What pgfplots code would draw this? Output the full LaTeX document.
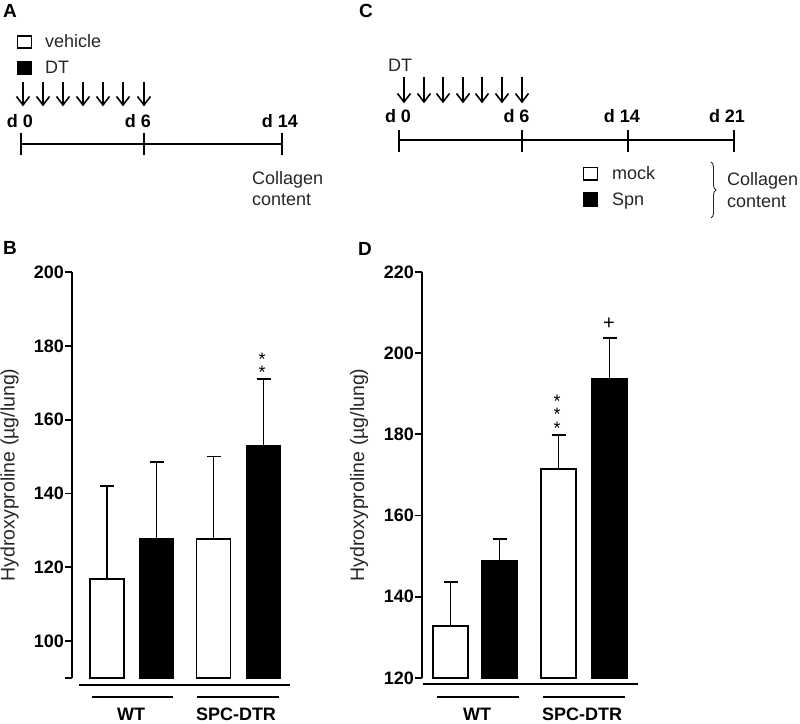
\documentclass[border=0pt]{standalone}
\usepackage{pgfplots}
\pgfplotsset{compat=1.18}
\usepackage{pgfplotstable}
\usepackage{fontspec}
\setmainfont{Liberation Sans}
\usetikzlibrary{decorations.pathreplacing}
\newcommand\fs{\fontsize{18}{21}\selectfont}
\newcommand\fl{\fontsize{19.5}{22}\selectfont}
\colorlet{txt}{black!85}

\pgfplotstableread{
x y e
0 116.8 25.2
2.13 127.7 22.3
}\Bwhite
\pgfplotstableread{
x y e
0.99 127.8 20.8
3.13 153.0 18.0
}\Bblack
\pgfplotstableread{
x y e
0 132.8 10.8
2.16 171.5 8.3
}\Dwhite
\pgfplotstableread{
x y e
0.98 148.8 5.4
3.18 193.6 10.1
}\Dblack

\pgfplotsset{
  panel/.style={
    scale only axis, height=406pt,
    axis y line*=left, axis x line=none,
    xtick=\empty,
    axis line style={line width=1.8pt, black},
    tick style={line width=1.8pt, black},
    major tick length=7pt, tick align=outside,
    /pgf/number format/assume math mode=true,
    yticklabel style={font=\fs\bfseries, inner sep=1pt},
    ylabel={Hydroxyproline (µg/lung)},
    ylabel style={font=\fl, text=txt, anchor=center},
  },
  errb/.style={
    error bars/y dir=plus, error bars/y explicit, error bars/error mark=-,
    error bars/error bar style={line width=1.8pt, black},
    error bars/error mark options={rotate=90, line width=1.8pt, black, mark size=7pt}},
  wbar/.style={ybar, bar shift=0pt, bar width=#1, fill=white, draw=black, line width=1.8pt, errb},
  bbar/.style={ybar, bar shift=0pt, bar width=#1, fill=black, draw=black, line width=1.8pt, errb},
}

\newcommand\arr[3]{% x, ytop, ybottom
  \draw[line width=1.6pt] (#1,#2) -- (#1,#3);
  \draw[line width=1.6pt] (#1-6.5,#3+8.5) -- (#1,#3) -- (#1+6.5,#3+8.5);}

\begin{document}
\begin{tikzpicture}[x=1pt,y=1pt]
\useasboundingbox (0,0) rectangle (800,723);

% ---------- Panel A ----------
\node[font=\fontsize{19}{21}\selectfont\bfseries] at (10,712) {A};
\draw[line width=1.5pt, fill=white] (17.5,675) rectangle (31.5,687);
\draw[line width=1.5pt, fill=black] (17.5,649) rectangle (31.5,661);
\node[font=\fs, text=txt, anchor=base west, inner sep=0] at (45,675) {vehicle};
\node[font=\fs, text=txt, anchor=base west, inner sep=0] at (45,649) {DT};
\foreach \x in {23,43,63,83,103,123,144} {\arr{\x}{641}{618}}
\node[font=\fs\bfseries, anchor=base, inner sep=0] at (20,595) {d 0};
\node[font=\fs\bfseries, anchor=base, inner sep=0] at (138,595) {d 6};
\node[font=\fs\bfseries, anchor=base, inner sep=0] at (280,595) {d 14};
\draw[line width=1.8pt] (21,579) -- (282,579);
\foreach \x in {21,144,282} {\draw[line width=1.8pt] (\x,568) -- (\x,590);}
\node[font=\fs, text=txt, anchor=base west, inner sep=0] at (252,538) {Collagen};
\node[font=\fs, text=txt, anchor=base west, inner sep=0] at (252,517) {content};

% ---------- Panel C ----------
\node[font=\fontsize{19}{21}\selectfont\bfseries] at (366,712) {C};
\node[font=\fs, text=txt, anchor=base west, inner sep=0] at (388,651) {DT};
\foreach \x in {404,424,443,463,482,502,522} {\arr{\x}{646}{621}}
\node[font=\fs\bfseries, anchor=base, inner sep=0] at (398,600) {d 0};
\node[font=\fs\bfseries, anchor=base, inner sep=0] at (516.5,600) {d 6};
\node[font=\fs\bfseries, anchor=base, inner sep=0] at (622,600) {d 14};
\node[font=\fs\bfseries, anchor=base, inner sep=0] at (727,600) {d 21};
\draw[line width=1.8pt] (399,583) -- (734,583);
\foreach \x in {399,522,628,734} {\draw[line width=1.8pt] (\x,571) -- (\x,593);}
\draw[line width=1.5pt, fill=white] (583.5,543) rectangle (597.5,555.5);
\draw[line width=1.5pt, fill=black] (583.5,517) rectangle (597.5,530);
\node[font=\fs, text=txt, anchor=base west, inner sep=0] at (612,543) {mock};
\node[font=\fs, text=txt, anchor=base west, inner sep=0] at (612,517) {Spn};
\draw[line width=0.9pt, txt, decorate, decoration={brace, amplitude=5pt}] (711,561) -- (711,505);
\node[font=\fs, text=txt, anchor=base west, inner sep=0] at (727,537) {Collagen};
\node[font=\fs, text=txt, anchor=base west, inner sep=0] at (727,515) {content};

% ---------- Panel B ----------
\node[font=\fontsize{19}{21}\selectfont\bfseries] at (10,475) {B};
\begin{axis}[panel, at={(72pt,45pt)}, anchor=south west, width=218pt,
  xmin=-0.7, xmax=3.66, ymin=90, ymax=200,
  ytick={100,120,...,200}, extra y ticks={90}, extra y tick labels={},
  ylabel style={at={(axis description cs:-0.2867,0.5)}}]
  \addplot[wbar=0.68] table[x=x, y=y, y error=e] {\Bwhite};
  \addplot[bbar=0.68] table[x=x, y=y, y error=e] {\Bblack};
\end{axis}
\node[font=\fontsize{18}{10.5}\selectfont, align=center, anchor=north, inner sep=0] at (262,370.5) {*\\*};
\draw[line width=1.8pt] (79,38) -- (290,38);
\draw[line width=1.8pt] (92,26) -- (173,26);
\draw[line width=1.8pt] (197,26) -- (279,26);
\node[font=\fs\bfseries, anchor=base, inner sep=0] at (131,2.5) {WT};
\node[font=\fs\bfseries, anchor=base, inner sep=0] at (236,2.5) {SPC-DTR};

% ---------- Panel D ----------
\node[font=\fontsize{19}{21}\selectfont\bfseries] at (365,474) {D};
\begin{axis}[panel, at={(422pt,45pt)}, anchor=south west, width=215pt,
  xmin=-0.57, xmax=3.73, ymin=120, ymax=220,
  ytick={120,140,...,220},
  ylabel style={at={(axis description cs:-0.293,0.5)}}]
  \addplot[wbar=0.7] table[x=x, y=y, y error=e] {\Dwhite};
  \addplot[bbar=0.7] table[x=x, y=y, y error=e] {\Dblack};
\end{axis}
\node[font=\fontsize{18}{11.5}\selectfont, align=center, anchor=north, inner sep=0] at (557,328) {*\\*\\*};
\node[font=\fontsize{20}{22}\selectfont, anchor=north, inner sep=0] at (609,405) {+};
\draw[line width=1.8pt] (423,39) -- (638,39);
\draw[line width=1.8pt] (437,26) -- (519,26);
\draw[line width=1.8pt] (543,26) -- (625,26);
\node[font=\fs\bfseries, anchor=base, inner sep=0] at (477,2.5) {WT};
\node[font=\fs\bfseries, anchor=base, inner sep=0] at (582,2.5) {SPC-DTR};
\end{tikzpicture}
\end{document}
